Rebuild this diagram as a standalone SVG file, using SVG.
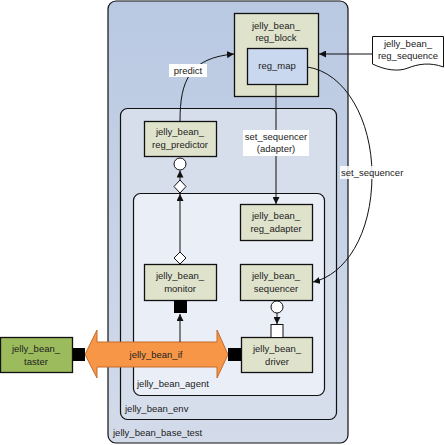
<svg xmlns="http://www.w3.org/2000/svg" width="445" height="445" viewBox="0 0 445 445">
<style>
text{font-family:"Liberation Sans",Arial,sans-serif;font-size:9.5px;fill:#222}
.n{fill:#dfe3cc;stroke:#111;stroke-width:1.3}
.c{text-anchor:middle}
.ln{fill:none;stroke:#111;stroke-width:1}
</style>
<defs>
<linearGradient id="g1" x1="0" y1="0" x2="0" y2="1"><stop offset="0" stop-color="#b9c9e2"/><stop offset="1" stop-color="#d3dbea"/></linearGradient>
<marker id="ah" viewBox="0 0 10 10" refX="10" refY="5" markerWidth="7" markerHeight="7" orient="auto-start-reverse"><path d="M0,0L10,5L0,10z" fill="#111"/></marker>
</defs>
<g id="base_test"><rect x="108" y="1" width="240" height="442" rx="8" fill="url(#g1)" stroke="#111" stroke-width="1.2"/><text x="113" y="436">jelly_bean_base_test</text></g>
<g id="env"><rect x="120.5" y="108.5" width="216" height="311" rx="7" fill="#d6deec" stroke="#111" stroke-width="1.2"/><text x="125" y="412">jelly_bean_env</text></g>
<g id="agent"><rect x="133.5" y="193.5" width="191" height="202" rx="7" fill="#eaeef6" stroke="#111" stroke-width="1.2"/><text x="137" y="387">jelly_bean_agent</text></g>
<g id="reg_block"><rect class="n" x="234.5" y="13.5" width="84" height="83"/><text class="c" x="276" y="29">jelly_bean_</text><text class="c" x="276" y="41">reg_block</text></g>
<g id="reg_map"><rect x="247.5" y="48.5" width="60" height="36" fill="#c9d8ee" stroke="#111" stroke-width="1.3"/><text class="c" x="277" y="69">reg_map</text></g>
<g id="reg_sequence"><path d="M372.5,36.5H443.5V67C430,62 418,64 408,68C398,72 385,70 372.5,64Z" fill="#fff" stroke="#111" stroke-width="1"/><text class="c" x="408" y="47">jelly_bean_</text><text class="c" x="408" y="59">reg_sequence</text></g>
<g id="reg_predictor"><rect class="n" x="144.5" y="121.5" width="72" height="35"/><text class="c" x="180" y="135">jelly_bean_</text><text class="c" x="180" y="148">reg_predictor</text></g>
<g id="reg_adapter"><rect class="n" x="240.5" y="204.5" width="72" height="36"/><text class="c" x="276" y="219">jelly_bean_</text><text class="c" x="276" y="232">reg_adapter</text></g>
<g id="monitor"><rect class="n" x="144.5" y="264.5" width="72" height="36"/><text class="c" x="180" y="279">jelly_bean_</text><text class="c" x="180" y="292">monitor</text></g>
<g id="sequencer"><rect class="n" x="240.5" y="264.5" width="72" height="36"/><text class="c" x="276" y="279">jelly_bean_</text><text class="c" x="276" y="292">sequencer</text></g>
<g id="driver"><rect class="n" x="241.5" y="337.5" width="71" height="35"/><text class="c" x="277" y="352">jelly_bean_</text><text class="c" x="277" y="365">driver</text></g>
<g id="taster"><rect x="0.5" y="337.5" width="72" height="35" fill="#9bbb5c" stroke="#111" stroke-width="1.3"/><text class="c" x="36" y="352">jelly_bean_</text><text class="c" x="36" y="365">taster</text></g>
<g id="jelly_bean_if"><path d="M85,354.5L97,330V342H217V330L228,354.5L217,378V367H97V378Z" fill="#f79646" stroke="#c46a2a" stroke-width="1"/><text class="c" x="156" y="358">jelly_bean_if</text></g>
<g id="connectors">
<rect x="73" y="348" width="12" height="13" fill="#000"/>
<rect x="228" y="348" width="13" height="13" fill="#000"/>
<rect x="174" y="300" width="13" height="13" fill="#000"/>
<path class="ln" d="M180,342V314" marker-end="url(#ah)"/>
<path class="ln" d="M180,121C180,80 190,58 234,54" marker-end="url(#ah)"/>
<rect x="169" y="64" width="38" height="13" fill="#fff"/><text class="c" x="188" y="74">predict</text>
<path class="ln" d="M372,54H319" marker-end="url(#ah)"/>
<path class="ln" d="M276,84.5V204" marker-end="url(#ah)"/>
<rect x="243" y="130" width="66" height="26" fill="#fff"/><text class="c" x="276" y="140">set_sequencer</text><text class="c" x="276" y="152">(adapter)</text>
<path class="ln" d="M307,67C345,72 372,120 372,175C372,235 345,275 313,282" marker-end="url(#ah)"/>
<rect x="340" y="166" width="64" height="13" fill="#fff" fill-opacity="0.85"/><text x="341" y="176">set_sequencer</text>
<circle cx="180" cy="164" r="6" fill="#fff" stroke="#111"/>
<path class="ln" d="M180,180V170.5" marker-end="url(#ah)"/>
<path d="M180,180L186,186.5L180,193L174,186.5Z" fill="#fff" stroke="#111"/>
<path class="ln" d="M180,252V194" marker-end="url(#ah)"/>
<path d="M180,252L186,258L180,264L174,258Z" fill="#fff" stroke="#111"/>
<circle cx="277" cy="307" r="6" fill="#fff" stroke="#111"/>
<path class="ln" d="M277,313V324" marker-end="url(#ah)"/>
<rect x="271" y="324.5" width="12" height="13" fill="#fff" stroke="#111"/>
</g>
</svg>
